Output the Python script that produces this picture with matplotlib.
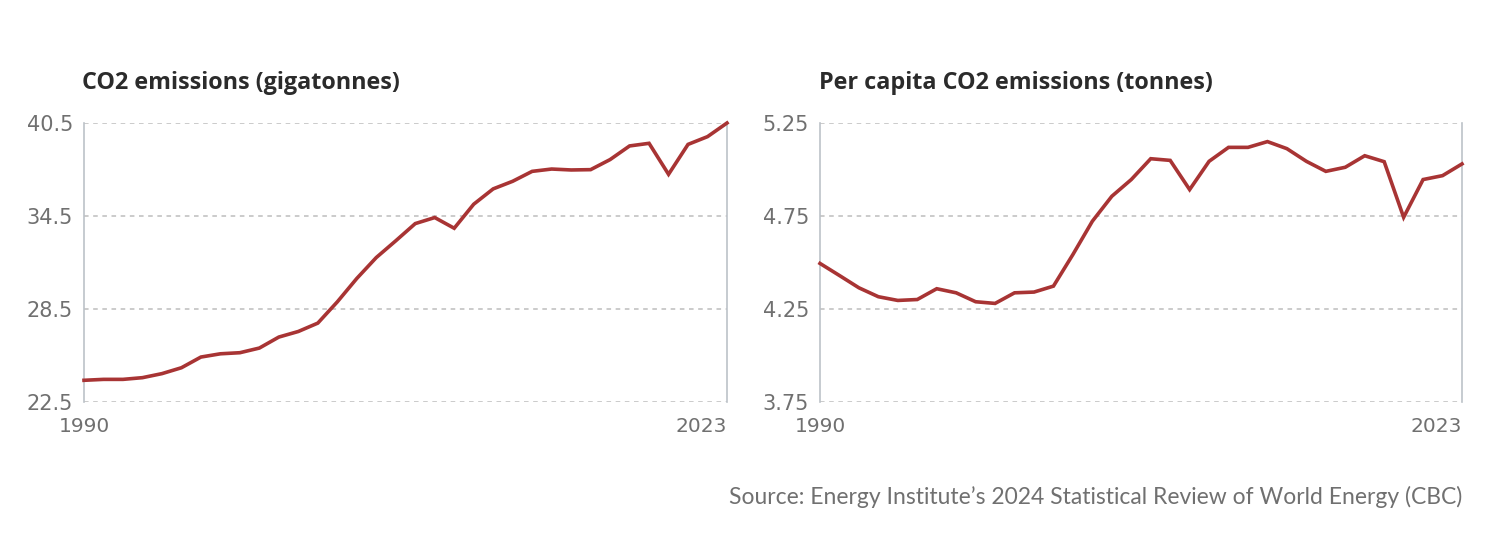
import numpy as np
import matplotlib
matplotlib.use("Agg")
import matplotlib.pyplot as plt

# data
years = list(range(1990, 2024))

co2_total = [23.9, 23.96, 23.96, 24.07, 24.33, 24.71, 25.40, 25.61, 25.68, 25.98,
             26.69, 27.05, 27.59, 28.96, 30.47, 31.82, 32.90, 34.01, 34.40, 33.71,
             35.26, 36.25, 36.74, 37.38, 37.53, 37.47, 37.49, 38.14, 39.02, 39.19,
             37.19, 39.12, 39.62, 40.5]

co2_per_capita = [4.495, 4.430, 4.364, 4.316, 4.296, 4.301, 4.359, 4.337, 4.289, 4.280,
                  4.337, 4.341, 4.373, 4.543, 4.722, 4.856, 4.946, 5.058, 5.049, 4.892,
                  5.044, 5.119, 5.119, 5.150, 5.112, 5.044, 4.990, 5.012, 5.074, 5.042,
                  4.743, 4.946, 4.967, 5.030]

left_ticks = [22.5, 28.5, 34.5, 40.5]
left_labels = ["22.5", "28.5", "34.5", "40.5"]
right_ticks = [3.75, 4.25, 4.75, 5.25]
right_labels = ["3.75", "4.25", "4.75", "5.25"]

titles = ["CO2 emissions (gigatonnes)", "Per capita CO2 emissions (tonnes)"]
source = "Source: Energy Institute\u2019s 2024 Statistical Review of World Energy (CBC)"

LINE = "#a83434"
GREY_TXT = "#707070"
GRID = "#bdbdbd"
SPINE = "#bcc2c8"

W, H = 1498, 554
fig = plt.figure(figsize=(W / 100, H / 100), dpi=100)


def px_axes(x0, x1, y_top, y_bot):
    return fig.add_axes([x0 / W, 1 - y_bot / H, (x1 - x0) / W, (y_bot - y_top) / H])


def style(ax, values, ticks, labels, title, tx):
    ax.plot(years, values, color=LINE, lw=2.6, clip_on=False, zorder=3,
            solid_joinstyle="miter")
    ax.set_xlim(years[0], years[-1])
    ax.set_ylim(ticks[0], ticks[-1])
    ax.set_yticks(ticks)
    ax.set_yticklabels(labels)
    ax.set_xticks([years[0], years[-1]])
    ax.set_xticklabels([str(years[0]), str(years[-1])])
    ax.get_xticklabels()[-1].set_horizontalalignment("right")
    ax.tick_params(length=0, labelsize=14.5, labelcolor=GREY_TXT)
    ax.tick_params(axis="y", labelsize=15, pad=8)
    ax.tick_params(axis="x", pad=11)
    for lab in ax.get_xticklabels() + ax.get_yticklabels():
        lab.set_family("DejaVu Sans")
    ax.yaxis.grid(True, color=GRID, linestyle=(0, (3, 3)), lw=1.1)
    ax.set_axisbelow(True)
    for s in ["top", "bottom"]:
        ax.spines[s].set_visible(False)
    for s in ["left", "right"]:
        ax.spines[s].set_color(SPINE)
        ax.spines[s].set_linewidth(1.2)
    fig.text(tx / W, 1 - 83 / H, title, fontsize=16.8, fontweight="bold",
             family="Open Sans", color="#2b2b2b", ha="left", va="center")


ax1 = px_axes(84, 727, 123, 402)
style(ax1, co2_total, left_ticks, left_labels, titles[0], 82)

ax2 = px_axes(820, 1462, 123, 402)
style(ax2, co2_per_capita, right_ticks, right_labels, titles[1], 819)

fig.text(1462 / W, 1 - 497 / H, source, fontsize=16.5, family="Lato",
         color=GREY_TXT, ha="right", va="center")

fig.savefig("out.png", dpi=100)
